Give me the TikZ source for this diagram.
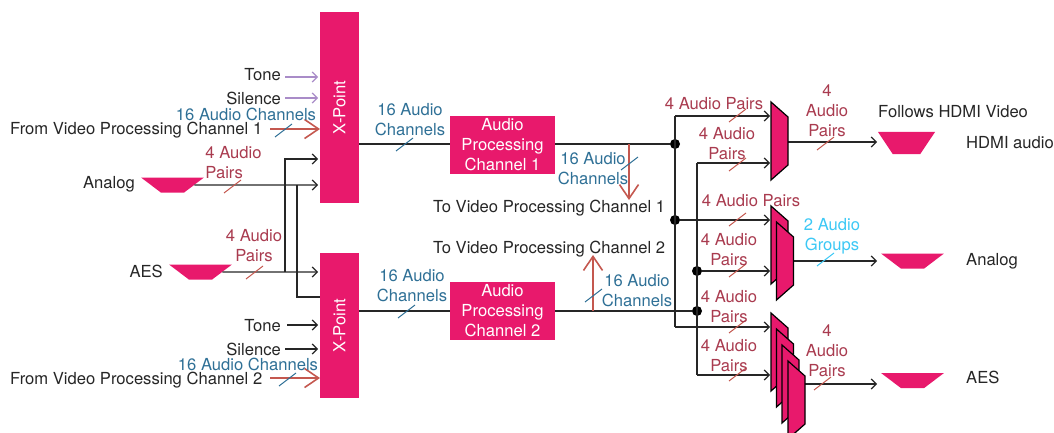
\documentclass[tikz,border=0pt]{standalone}
\usepackage{fontspec}
\setmainfont{TeX Gyre Heros}
\usetikzlibrary{arrows.meta,shapes.geometric}

\definecolor{blockpink}{HTML}{E8196C}
\definecolor{pairred}{HTML}{A93B4F}
\definecolor{chanteal}{HTML}{2F7096}
\definecolor{groupcyan}{HTML}{3CC8F5}
\definecolor{tonepurple}{HTML}{A98CC8}
\definecolor{busred}{HTML}{C4584F}

\tikzset{
  lbl/.style={inner sep=0pt,yshift=-1pt,text=black!85,font=\fontsize{16.6}{20}\selectfont,align=center},
  pairslbl/.style={lbl,text=pairred},
  chanlbl/.style={lbl,text=chanteal},
  block/.style={fill=blockpink,text=white,inner sep=0pt,font=\fontsize{16.6}{20}\selectfont,align=center},
  ioshape/.style={trapezium,trapezium stretches=true,shape border rotate=180,fill=blockpink,inner sep=0pt},
  junction/.style={fill=black,circle,inner sep=0pt,minimum size=10pt},
  wire/.style={line width=1.2pt,black!85},
  wirearrow/.style={wire,-{Straight Barb[length=5pt,width=10pt]}},
  bigbus/.style={line width=1.6pt,busred,-{Straight Barb[length=14pt,width=19pt]}},
  tick/.style={line width=1pt},
  pics/muxshape/.style={code={
    \draw[fill=blockpink,line width=1.2pt] (0,0) -- (17,15) -- (17,63) -- (0,78) -- cycle;
  }}
}

\begin{document}
\begin{tikzpicture}[x=1pt,y=-1pt]
  \useasboundingbox (0,0) rectangle (1054,433);

  % crosspoints and processing blocks
  \node[block,minimum width=39pt,minimum height=191pt] (xpointA) at (339.5,107.5) {};
  \node[block,minimum width=39pt,minimum height=145pt] (xpointB) at (339.5,325.5) {};
  \node[block,rotate=90] (xpointAtxt) at (xpointA) {X-Point};
  \node[block,rotate=90] (xpointBtxt) at (xpointB) {X-Point};
  \node[block,minimum width=105pt,minimum height=58pt] (procA) at (502.5,145) {Audio\\Processing\\Channel 1};
  \node[block,minimum width=105pt,minimum height=58pt] (procB) at (502.5,311) {Audio\\Processing\\Channel 2};

  % inputs and outputs
  \node[ioshape,minimum width=63pt,minimum height=15pt,trapezium angle=51] (analogIn) at (172.5,185) {\phantom{x}};
  \node[ioshape,minimum width=63pt,minimum height=15pt,trapezium angle=51] (aesIn) at (200.5,272) {\phantom{x}};
  \node[ioshape,minimum width=57pt,minimum height=22pt,trapezium angle=63] (hdmiOut) at (906.5,143) {\phantom{x}};
  \node[ioshape,minimum width=63pt,minimum height=15pt,trapezium angle=51] (analogOut) at (912.5,261) {\phantom{x}};
  \node[ioshape,minimum width=63pt,minimum height=15pt,trapezium angle=51] (aesOut) at (912.5,380.5) {\phantom{x}};

  % junctions
  \node[junction] (jA) at (675,144) {};
  \node[junction] (jB) at (675,220) {};
  \node[junction] (jC) at (697,271) {};
  \node[junction] (jD) at (697,311) {};

  % free ends of the connectors
  \foreach \name/\x/\y in {toneA/285/77,silA/285/98,xfromA/270/129,xinA/320/129,
      toneB/287/325,silB/285/349,xfromB/270/378,xinB/320/378,
      xtop/318/159,xan/318/185,xaes/318/272,riseA/285/159,riseB/297/185,dropB/297/297,
      muxA/770/116,muxB/770/163,muxC/770/220,muxD/770/271,muxE/770/327,muxF/770/375,
      topA/675/116,botA/675/327,topB/697/163,botB/697/375,
      hdmiFrom/788/142,hdmiTo/877/142,anFrom/793/261,anTo/877/261,aesFrom/805/384,aesTo/877/384,
      downA/629/144,downB/629/200,upA/593/311,upB/593/255}
    \coordinate (\name) at (\x,\y);

  % black wiring
  \draw[wirearrow] (analogIn.east) -- (xan);
  \draw[wirearrow] (aesIn.east) -- (xaes);
  \draw[wirearrow] (xaes -| riseA) -- (riseA) -- (xtop);
  \draw[wire] (riseB) -- (dropB) -- (xpointB.west |- dropB);
  \draw[wirearrow] (toneB) -- (toneB -| xan);
  \draw[wirearrow] (silB) -- (silB -| xan);
  \draw[wire] (xpointA.east |- jA) -- (procA.west |- jA);
  \draw[wire] (procA.east |- jA) -- (jA);
  \draw[wire] (xpointB.east |- jD) -- (procB.west |- jD);
  \draw[wire] (procB.east |- jD) -- (jD);
  \draw[wirearrow] (topA) -- (muxA);
  \draw[wire] (topA) -- (botA);
  \draw[wirearrow] (jB) -- (muxC);
  \draw[wirearrow] (botA) -- (muxE);
  \draw[wirearrow] (topB) -- (muxB);
  \draw[wire] (topB) -- (botB);
  \draw[wirearrow] (jC) -- (muxD);
  \draw[wirearrow] (botB) -- (muxF);
  \draw[wirearrow] (hdmiFrom) -- (hdmiTo);
  \draw[wirearrow] (anFrom) -- (anTo);
  \draw[wirearrow] (aesFrom) -- (aesTo);

  % purple inputs, red buses
  \draw[wirearrow,tonepurple] (toneA) -- (toneA -| xan);
  \draw[wirearrow,tonepurple] (silA) -- (silA -| xan);
  \draw[bigbus] (xfromA) -- (xinA);
  \draw[bigbus] (xfromB) -- (xinB);
  \draw[bigbus] (downA) -- (downB);
  \draw[bigbus] (upA) -- (upB);

  % muxes
  \pic (mhdmi) at (771,102) {muxshape};
  \foreach \x/\y in {771/206,776.5/222} \pic at (\x,\y) {muxshape};
  \foreach \x/\y in {771/313,776.5/329,782/345,788/361} \pic at (\x,\y) {muxshape};

  % width ticks
  \foreach \x/\y in {275/137,279/386,396/151,398/318,621/170,585/302}
    \draw[tick,chanteal] (\x,\y) -- ++(17,-13);
  \foreach \x/\y in {224/193,246/279,729/122,729/171,729/226,729/277,729/333,729/381,817/150,814/390}
    \draw[tick,busred] (\x,\y) -- ++(17,-13);
  \draw[tick,groupcyan] (817,266) -- ++(17,-13);

  % black labels
  \node[lbl,anchor=east] (toneAl) at (281,74) {Tone};
  \node[lbl,anchor=east] (silAl) at (281,97) {Silence};
  \node[lbl,anchor=west] (fromAl) at (10,129.5) {From Video Processing Channel 1};
  \node[lbl,anchor=east] (analogl) at (135,183.5) {Analog};
  \node[lbl,anchor=east] (aesl) at (163,270.5) {AES};
  \node[lbl,anchor=east] (toneBl) at (281,325) {Tone};
  \node[lbl,anchor=east] (silBl) at (281,348) {Silence};
  \node[lbl,anchor=west] (fromBl) at (10,379) {From Video Processing Channel 2};
  \node[lbl,anchor=west] (toVa) at (433,207) {To Video Processing Channel 1};
  \node[lbl,anchor=west] (toVb) at (433,248.5) {To Video Processing Channel 2};
  \node[lbl,anchor=west] (followsl) at (878,111) {Follows HDMI Video};
  \node[lbl,anchor=west] (hdmil) at (966,142) {HDMI audio};
  \node[lbl,anchor=west] (analogOutl) at (966,260.5) {Analog};
  \node[lbl,anchor=west] (aesOutl) at (966,376) {AES};

  % channel labels
  \node[chanlbl] (chanA) at (246,113) {16 Audio Channels};
  \node[chanlbl] (chanB) at (248,363) {16 Audio Channels};
  \foreach \name/\x/\y in {chanC/410/119,chanD/412/285,chanE/593/167.5,chanF/637/290}
    \node[chanlbl] (\name) at (\x,\y) {16 Audio\\Channels};

  % pair labels
  \node[pairslbl,align=left] (pairA) at (233.5,162) {4 Audio\\Pairs};
  \foreach \name/\x/\y in {pairB/254/245,pairC/727/143,pairD/729/249,pairE/729/306,pairF/729/354.5}
    \node[pairslbl] (\name) at (\x,\y) {4 Audio\\Pairs};
  \node[pairslbl] (pairG) at (714,102.5) {4 Audio Pairs};
  \node[pairslbl] (pairH) at (751,199.5) {4 Audio Pairs};
  \node[pairslbl] (pairI) at (827,110) {4\\Audio\\Pairs};
  \node[pairslbl] (pairJ) at (827,350) {4\\Audio\\Pairs};
  \node[lbl,text=groupcyan] (groupl) at (832,235.5) {2 Audio\\Groups};
\end{tikzpicture}
\end{document}
